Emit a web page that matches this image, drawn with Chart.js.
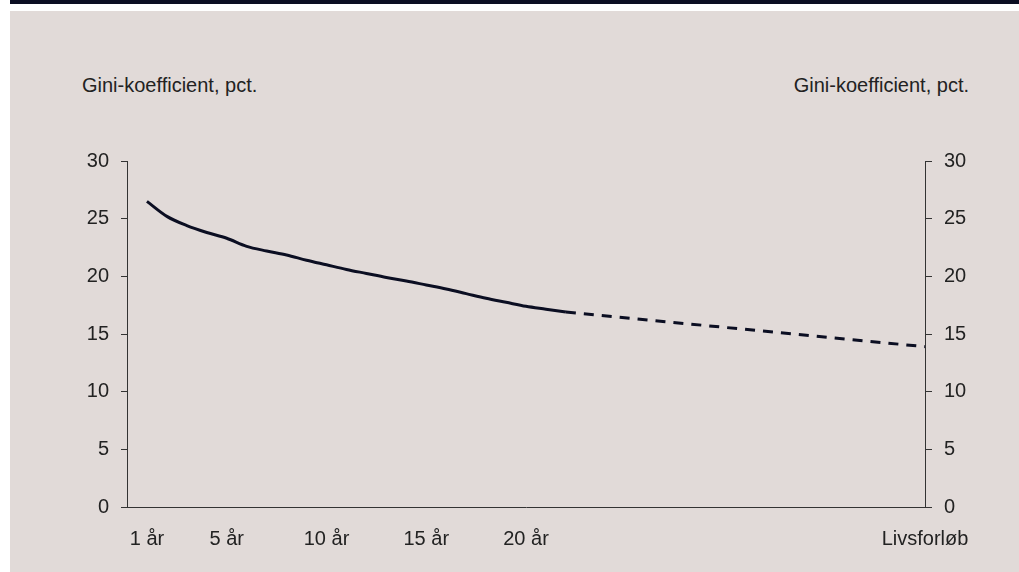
<!DOCTYPE html>
<html>
<head>
<meta charset="utf-8">
<script src="https://cdn.jsdelivr.net/npm/chart.js@4.4.0/dist/chart.umd.min.js"></script>
<style>
  html,body{margin:0;padding:0;background:#fff;}
  #wrap{position:relative;width:1019px;height:572px;overflow:hidden;font-family:"Liberation Sans",Arial,sans-serif;}
  #topbar{position:absolute;left:10px;top:0;right:0;height:4px;background:#0b0e22;}
  #bg{position:absolute;left:10px;top:11px;right:0;bottom:0;background:#e1dad8;}
  #chart{position:absolute;left:0;top:0;}
  .ttl{position:absolute;top:74px;font-size:20px;color:#222;white-space:nowrap;}
</style>
</head>
<body>
<div id="wrap">
  <div id="topbar"></div>
  <div id="bg"></div>
  <div class="ttl" style="left:82px">Gini-koefficient, pct.</div>
  <div class="ttl" style="right:50px">Gini-koefficient, pct.</div>
  <canvas id="chart" width="1019" height="572"></canvas>
</div>
<script>
// observed years and gini values (pct.)
const years = [1,2,3,4,5,6,7,8,9,10,11,12,13,14,15,16,17,18,19,20,21,22];
const gini  = [26.5,25.2,24.4,23.8,23.3,22.6,22.2,21.85,21.4,21.0,20.6,20.25,19.9,19.6,19.25,18.9,18.5,18.1,17.75,17.4,17.15,16.9];
// projection to full life course
const projX = [22,40];
const projY = [16.9,13.9];
// x tick positions and labels
const xTicks  = [1,5,10,15,20,40];
const xLabels = ['1 år','5 år','10 år','15 år','20 år','Livsforløb'];
const yTicks = [0,5,10,15,20,25,30];

const ink = '#0b0e22', txt = '#222222', axisCol = '#333333';
const font = {family:'"Liberation Sans", Arial, sans-serif', size:20};

const yScale = (pos, pad, tl, w) => ({
  type:'linear', position:pos, min:0, max:30,
  afterBuildTicks: s => { s.ticks = yTicks.map(v=>({value:v})); },
  afterFit: s => { s.width = w; },
  grid:{display:true, drawOnChartArea:false, tickLength:tl, color:axisCol, lineWidth:1},
  border:{display:true, color:axisCol, width:1},
  ticks:{color:txt, font, padding:pad}
});

new Chart(document.getElementById('chart'), {
  type:'line',
  data:{ datasets:[
    { data: years.map((x,i)=>({x, y:gini[i]})), borderColor:ink, borderWidth:3, pointRadius:0, cubicInterpolationMode:'monotone', yAxisID:'y' },
    { data: projX.map((x,i)=>({x, y:projY[i]})), borderColor:ink, borderWidth:3, pointRadius:0, borderDash:[10,8], borderDashOffset:0, yAxisID:'y' }
  ]},
  options:{
    responsive:false, animation:false,
    layout:{padding:{top:161, left:0, right:0, bottom:0}},
    plugins:{legend:{display:false}, tooltip:{enabled:false}},
    scales:{
      x:{ type:'linear', min:0, max:40,
        afterBuildTicks: s => { s.ticks = xTicks.map(v=>({value:v})); },
        afterFit: s => { s.height = 65; },
        grid:{display:false, drawTicks:false},
        border:{display:true, color:axisCol, width:1},
        ticks:{color:txt, font, padding:20, maxRotation:0, autoSkip:false,
          callback: v => xLabels[xTicks.indexOf(v)] }
      },
      y: yScale('left', 12, 6, 127),
      y2: yScale('right', 12, 7, 94)
    }
  }
});
</script>
</body>
</html>
